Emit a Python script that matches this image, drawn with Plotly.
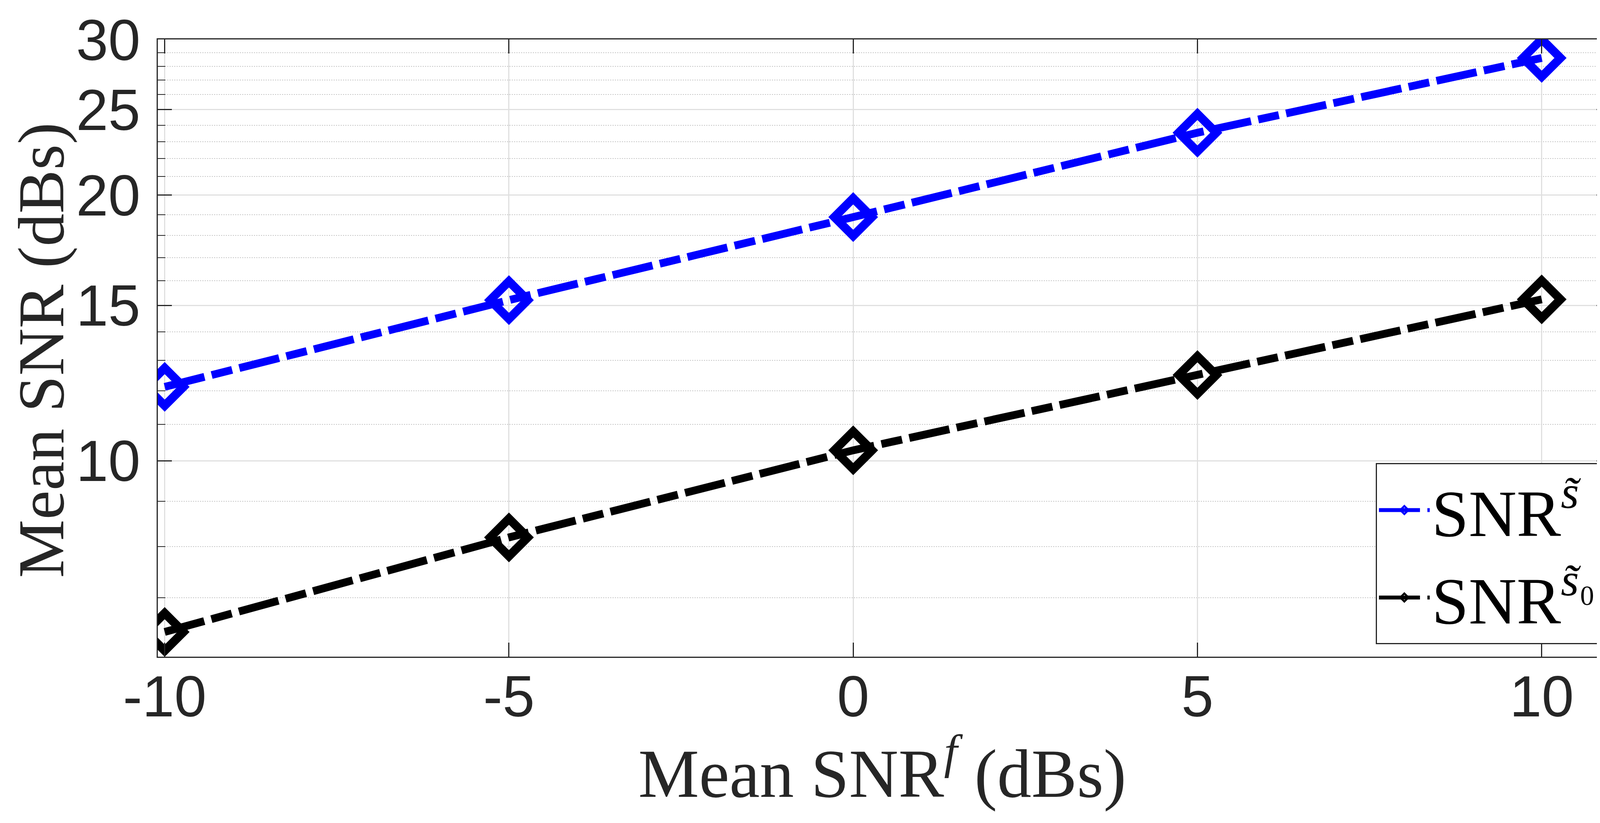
import plotly.graph_objects as go

# data
snr_f = [-10, -5, 0, 5, 10]
snr_s = [12.13, 15.21, 18.89, 23.54, 28.61]
snr_s0 = [6.40, 8.19, 10.28, 12.51, 15.24]

x_ticks = [-10, -5, 0, 5, 10]
y_ticks = [10, 15, 20, 25, 30]
y_minor = [7, 8, 9, 11, 12, 13, 14, 16, 17, 18, 19, 21, 22, 23, 24, 26, 27, 28, 29]

AX = "#262626"
SERIF = "Liberation Serif"
SANS = "Liberation Sans"
DASH = "105px,19px,54px,19px"

fig = go.Figure()

fig.add_trace(go.Scatter(
    x=snr_f, y=snr_s,
    mode="lines+markers",
    name="SNR<sup><i>s\u0303</i></sup>",
    line=dict(color="#0000FF", width=20, dash=DASH),
    marker=dict(symbol="diamond-open", size=74, line=dict(width=22, color="#0000FF")),
))
fig.add_trace(go.Scatter(
    x=snr_f, y=snr_s0,
    mode="lines+markers",
    name="SNR<sup><i>s\u0303</i>\u2080</sup>",
    line=dict(color="#000000", width=20, dash=DASH),
    marker=dict(symbol="diamond-open", size=74, line=dict(width=22, color="#000000")),
))

# page body has an 8px margin, so the figure is 16px smaller than the window
fig.update_layout(
    width=4152, height=2092,
    margin=dict(l=396, r=37, t=65, b=418),
    paper_bgcolor="white", plot_bgcolor="white",
    font=dict(family=SANS, size=148, color=AX),
    showlegend=True,
    legend=dict(
        x=0.9917, y=0.02, xanchor="right", yanchor="bottom",
        bgcolor="white", bordercolor=AX, borderwidth=3,
        font=dict(family=SERIF, size=170, color="black"),
        itemwidth=130,
    ),
)

fig.update_xaxes(
    range=[-10.1, 11],
    tickvals=x_ticks,
    ticktext=[str(v) for v in x_ticks],
    ticks="inside", ticklen=36, tickwidth=3, tickcolor=AX,
    ticklabelstandoff=-28,
    ticklabeloverflow="allow",
    tickfont=dict(family=SANS, size=148, color=AX),
    showline=True, linecolor=AX, linewidth=3, mirror="ticks",
    showgrid=True, gridcolor="#e0e0e0", gridwidth=3,
    zeroline=False,
)

fig.update_yaxes(
    type="log",
    range=[0.77815, 1.4775],
    tickvals=y_ticks,
    ticktext=[str(v) for v in y_ticks],
    ticks="inside", ticklen=36, tickwidth=3, tickcolor=AX,
    ticklabelstandoff=12,
    ticklabeloverflow="allow",
    tickfont=dict(family=SANS, size=148, color=AX),
    showline=True, linecolor=AX, linewidth=3, mirror="ticks",
    showgrid=True, gridcolor="#e0e0e0", gridwidth=3,
    zeroline=False,
    minor=dict(tickmode="array", tickvals=y_minor, ticks="inside", ticklen=19,
               tickwidth=2, tickcolor=AX, showgrid=True, gridcolor="#c8c8c8",
               griddash="dot", gridwidth=2),
)

# axis titles as annotations so they sit where the reference puts them
fig.add_annotation(
    text="Mean SNR<sup><i>f</i></sup> (dBs)",
    xref="paper", yref="paper", x=0.4987, y=-0.181,
    xanchor="center", yanchor="middle", showarrow=False,
    font=dict(family=SERIF, size=175, color=AX),
)
fig.add_annotation(
    text="Mean SNR (dBs)",
    xref="paper", yref="paper", x=-0.0804, y=0.497,
    xanchor="center", yanchor="middle", showarrow=False, textangle=-90,
    font=dict(family=SERIF, size=168, color=AX),
)

fig.write_html("out.html")
